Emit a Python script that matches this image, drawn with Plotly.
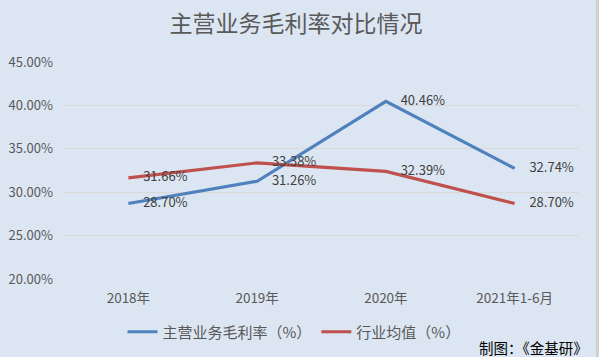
import plotly.graph_objects as go

categories = ["2018年", "2019年", "2020年", "2021年1-6月"]
main_margin = [28.70, 31.26, 40.46, 32.74]
industry_avg = [31.66, 33.38, 32.39, 28.70]
y_ticks = [20, 25, 30, 35, 40, 45]
y_tick_text = [f"{v:.2f}%" for v in y_ticks]

FONT = "Noto Sans CJK SC, Noto Sans, sans-serif"
W, H = 599, 357
L, R, T, B = 64, 20, 62, 78
pw = W - L - R
ph = H - T - B

def px_x(x):
    return (x - L) / pw

def px_y(y):
    return (H - B - y) / ph

fig = go.Figure()
fig.add_trace(go.Scatter(
    x=categories, y=main_margin, name="主营业务毛利率（%）",
    mode="lines+markers+text",
    line=dict(color="#4f81bd", width=3.2),
    marker=dict(size=22, color="rgba(0,0,0,0)"),
    text=[f"{v:.2f}%" for v in main_margin],
    textposition="middle right",
    textfont=dict(family=FONT, size=13, color="#404040"),
    cliponaxis=False,
))
fig.add_trace(go.Scatter(
    x=categories, y=industry_avg, name="行业均值（%）",
    mode="lines+markers+text",
    line=dict(color="#c0504d", width=3.2),
    marker=dict(size=22, color="rgba(0,0,0,0)"),
    text=[f"{v:.2f}%" for v in industry_avg],
    textposition="middle right",
    textfont=dict(family=FONT, size=13, color="#404040"),
    cliponaxis=False,
))

fig.update_layout(
    width=W, height=H,
    margin=dict(l=L, r=R, t=T, b=B, autoexpand=False),
    paper_bgcolor="#dce6f2",
    plot_bgcolor="#dce6f2",
    font=dict(family=FONT, color="#595959"),
    title=dict(text="主营业务毛利率对比情况", x=px_x(296), xref="paper", xanchor="center",
               y=1 - 24 / H, yanchor="middle",
               font=dict(family=FONT, size=23, color="#595959")),
    xaxis=dict(showgrid=False, showline=False, zeroline=False, ticks="",
               range=[-0.5, 3.5], automargin=False, ticklabelstandoff=9,
               tickfont=dict(family=FONT, size=13.5, color="#595959")),
    yaxis=dict(range=[20, 45], tickvals=y_ticks, ticktext=y_tick_text,
               showgrid=True, gridcolor="#d9d9d9", gridwidth=1,
               zeroline=False, showline=False, ticks="", automargin=False,
               ticklabelstandoff=10,
               tickfont=dict(family=FONT, size=13, color="#595959")),
    legend=dict(orientation="h", x=px_x(294), xanchor="center",
                y=px_y(332), yanchor="middle",
                font=dict(family=FONT, size=15, color="#595959"),
                bgcolor="rgba(0,0,0,0)", itemwidth=30),
    showlegend=True,
    hovermode=False,
)

fig.add_annotation(text="制图：《金基研》", xref="paper", yref="paper",
                   x=px_x(590), y=px_y(347), xanchor="right", yanchor="middle",
                   showarrow=False, font=dict(family=FONT, size=14.5, color="#000000"))

fig.add_shape(type="rect", xref="paper", yref="paper",
              x0=px_x(596), x1=px_x(599), y0=px_y(0), y1=px_y(H),
              fillcolor="#d0d0d0", line=dict(width=0), layer="above")

fig.write_html("out.html", config={"displayModeBar": False, "staticPlot": True},
               post_script="document.body.style.margin='0';document.body.style.overflow='hidden';")
